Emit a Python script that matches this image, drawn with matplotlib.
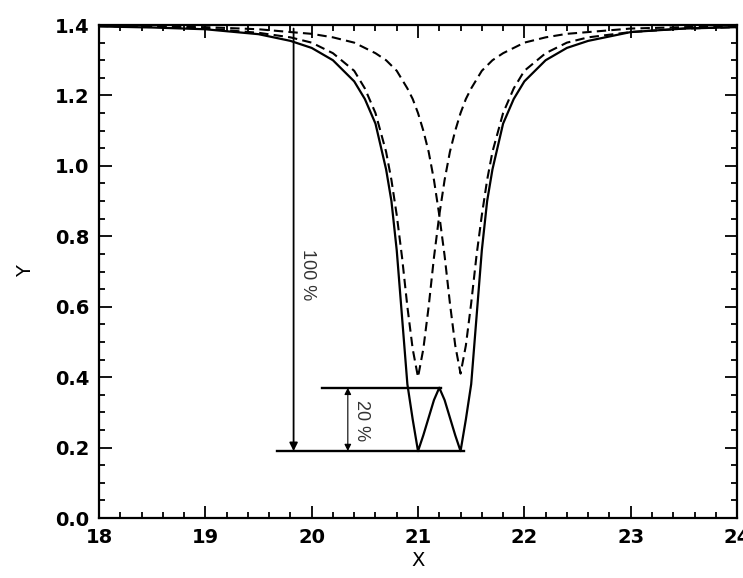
import matplotlib
matplotlib.use("Agg")
import matplotlib.pyplot as plt

plt.rcParams['font.family'] = ['DejaVu Sans']

# values
x = [18.0, 18.5, 19.0, 19.5, 19.8, 20.0, 20.2, 20.4, 20.5, 20.6, 20.7, 20.75,
     20.8, 20.85, 20.9, 20.95, 21.0, 21.05, 21.1, 21.15, 21.2, 21.25, 21.3,
     21.35, 21.4, 21.45, 21.5, 21.55, 21.6, 21.65, 21.7, 21.8, 21.9, 22.0,
     22.2, 22.4, 22.6, 23.0, 23.5, 24.0]

line_a = [1.397, 1.395, 1.39, 1.378, 1.365, 1.35, 1.32, 1.27, 1.22, 1.15, 1.04, 0.96,
          0.86, 0.74, 0.60, 0.48, 0.40, 0.48, 0.60, 0.74, 0.86, 0.96, 1.04,
          1.10, 1.15, 1.19, 1.22, 1.245, 1.27, 1.285, 1.30, 1.32, 1.335, 1.35,
          1.365, 1.375, 1.38, 1.39, 1.394, 1.397]

line_b = [1.398, 1.396, 1.394, 1.388, 1.38, 1.375, 1.365, 1.35, 1.335, 1.32, 1.30, 1.285,
          1.27, 1.245, 1.22, 1.19, 1.15, 1.10, 1.04, 0.96, 0.86, 0.745, 0.61,
          0.49, 0.41, 0.49, 0.61, 0.745, 0.86, 0.96, 1.04, 1.15, 1.22, 1.27,
          1.32, 1.35, 1.365, 1.38, 1.39, 1.394]

combined = [1.396, 1.393, 1.388, 1.374, 1.355, 1.335, 1.30, 1.24, 1.19, 1.12, 0.99, 0.90,
            0.76, 0.57, 0.38, 0.28, 0.19, 0.235, 0.285, 0.335, 0.37, 0.335, 0.285,
            0.235, 0.19, 0.28, 0.38, 0.57, 0.76, 0.90, 0.99, 1.12, 1.19, 1.24,
            1.30, 1.335, 1.355, 1.38, 1.39, 1.394]

y_top = 1.39
y_min = 0.19
y_peak = 0.37
low_line = (19.67, 21.43)
high_line = (20.1, 21.22)
arrow_100_x = 19.83
arrow_20_x = 20.34

fig = plt.figure(figsize=(7.43, 5.78), dpi=100)
ax = fig.add_axes([0.1332, 0.1038, 0.8588, 0.8529])

ax.plot(x, line_a, color='black', lw=1.5, dashes=(4.5, 2.5))
ax.plot(x, line_b, color='black', lw=1.5, dashes=(4.5, 2.5))
ax.plot(x, combined, color='black', lw=1.6)

ax.plot(low_line, [y_min, y_min], color='black', lw=1.7)
ax.plot(high_line, [y_peak, y_peak], color='black', lw=1.7)

ax.annotate('', xy=(arrow_100_x, y_min), xytext=(arrow_100_x, y_top),
            arrowprops=dict(arrowstyle='-|>', color='black', lw=1.3,
                            mutation_scale=12, shrinkA=0, shrinkB=0))
ax.annotate('', xy=(arrow_20_x, y_min), xytext=(arrow_20_x, y_peak),
            arrowprops=dict(arrowstyle='<|-|>', color='black', lw=0.8,
                            mutation_scale=10, shrinkA=0, shrinkB=0))

ax.text(arrow_100_x + 0.05, 0.69, '100 %', rotation=-90, ha='left', va='center',
        fontsize=13, color='#333333', family='Liberation Sans')
ax.text(arrow_20_x + 0.05, 0.278, '20 %', rotation=-90, ha='left', va='center',
        fontsize=13, color='#333333', family='Liberation Sans')

ax.set_xlim(18, 24)
ax.set_ylim(0, 1.4)
ax.set_xticks([18, 19, 20, 21, 22, 23, 24])
ax.set_yticks([0.0, 0.2, 0.4, 0.6, 0.8, 1.0, 1.2, 1.4])
ax.set_xticks([18 + 0.2 * i for i in range(31)], minor=True)
ax.set_yticks([0.05 * i for i in range(29)], minor=True)
ax.set_yticklabels(['0.0', '0.2', '0.4', '0.6', '0.8', '1.0', '1.2', '1.4'])

ax.tick_params(which='both', direction='in', top=True, right=True, width=1.3,
               labelsize=14)
ax.tick_params(which='major', length=9, pad=7)
ax.tick_params(which='minor', length=4)
for lab in ax.get_xticklabels() + ax.get_yticklabels():
    lab.set_fontweight('bold')
for s in ax.spines.values():
    s.set_linewidth(1.6)

ax.set_xlabel('X', fontsize=14, labelpad=3)
ax.set_ylabel('Y', fontsize=14, labelpad=14)

fig.savefig('out.png', dpi=100)
